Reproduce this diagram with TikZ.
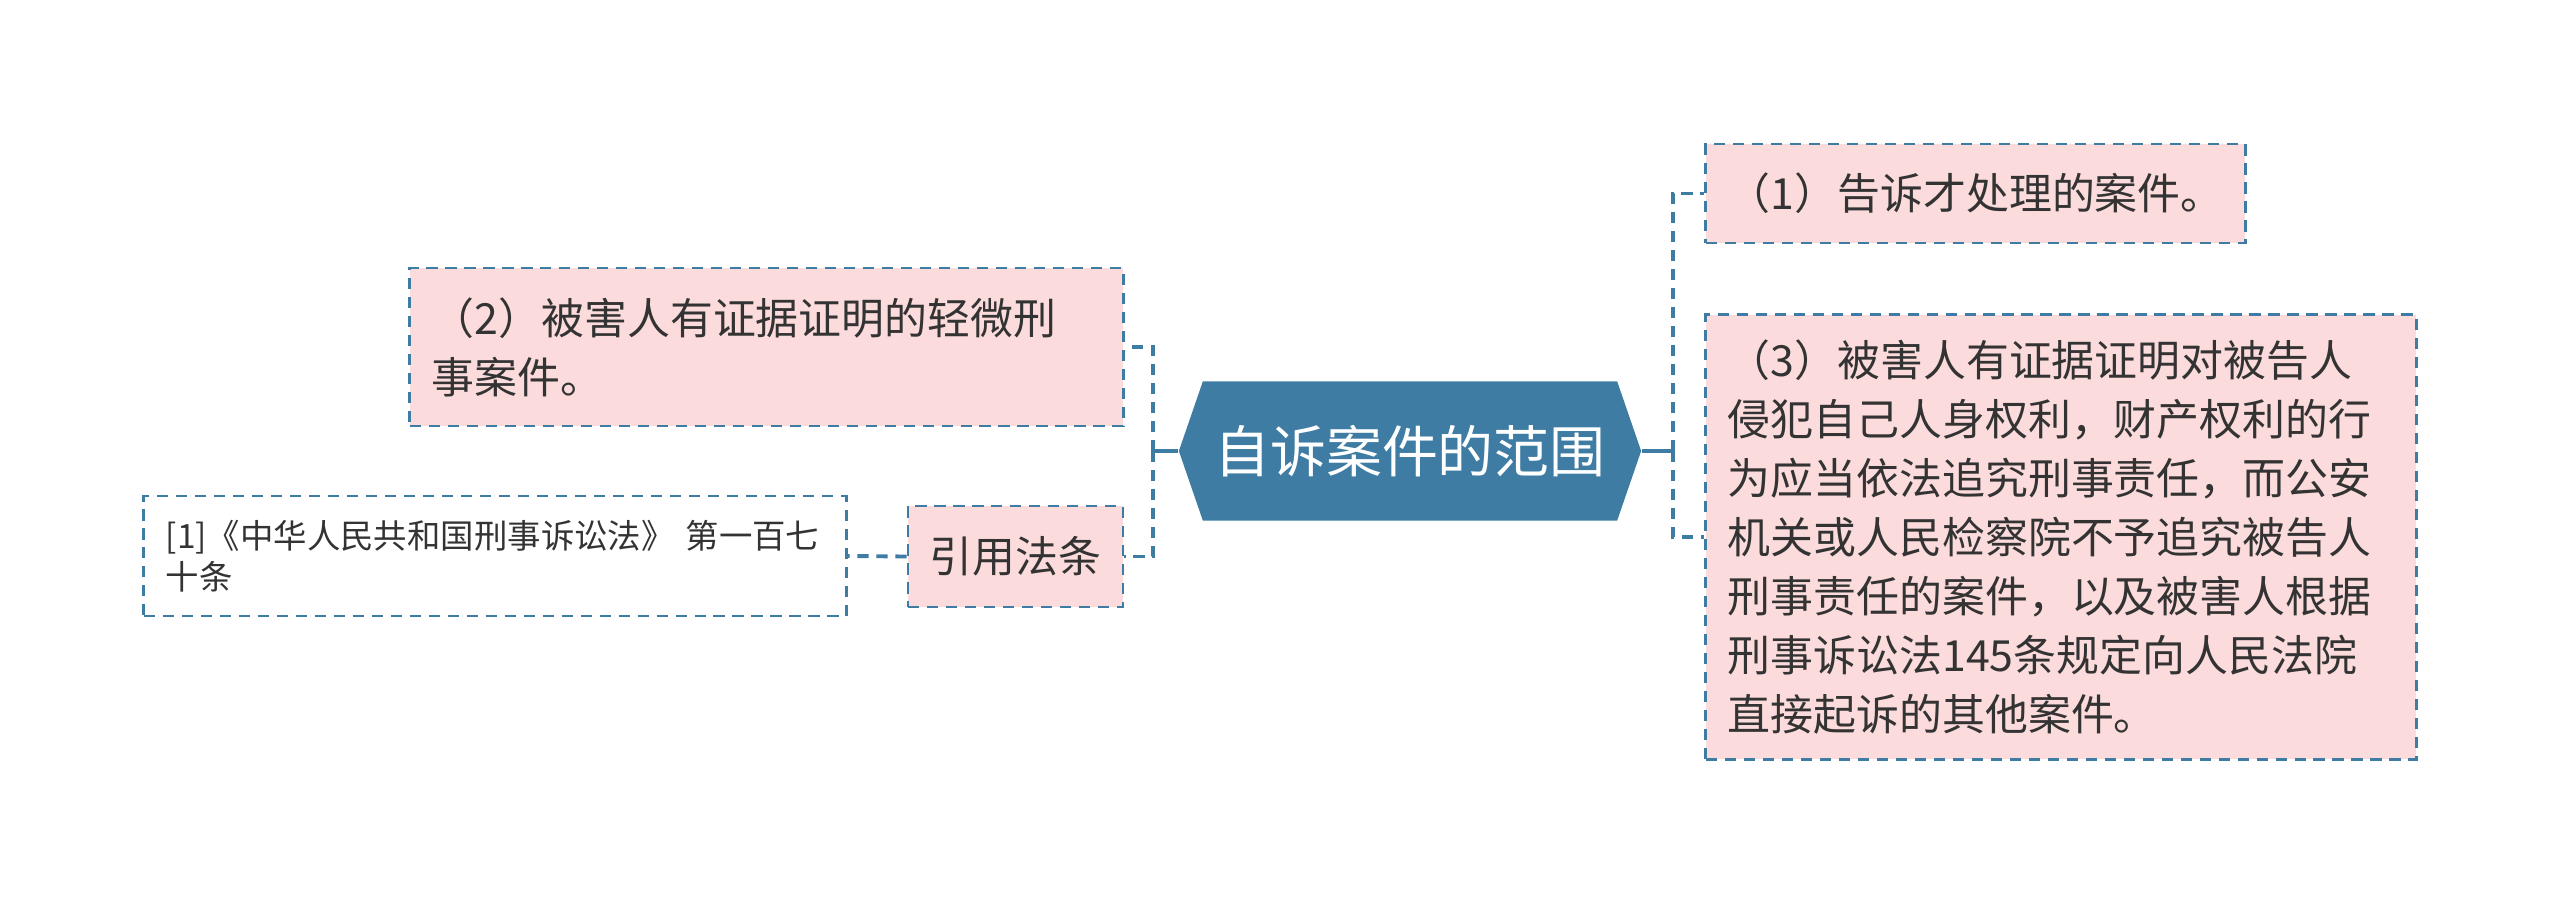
\documentclass[tikz,border=0pt]{standalone}
\usepackage{fontspec}
\setmainfont{Noto Sans CJK SC}
\usetikzlibrary{shapes.symbols}
\definecolor{mapblue}{HTML}{3E7CA4}
\definecolor{mappink}{HTML}{FBDBDB}
\definecolor{maptext}{HTML}{333333}

\begin{document}
\begin{tikzpicture}[x=0.01cm, y=-0.01cm,
  rootnode/.style={signal, signal to=west and east, signal pointer angle=142, fill=mapblue, text=white,
    minimum width=4.62cm, minimum height=1.39cm, inner sep=0pt, font=\fontsize{15.9pt}{19pt}\selectfont},
  leaf/.style={draw=mapblue, line width=0.8pt, dash pattern=on 3.2pt off 2.2pt, fill=mappink, text=maptext,
    align=left, inner xsep=0.22cm, inner ysep=0pt, font=\fontsize{12.2pt}{16.8pt}\selectfont},
  note/.style={leaf, fill=white, font=\fontsize{9.5pt}{11.6pt}\selectfont},
  link/.style={draw=mapblue, line width=1.1pt},
  dlink/.style={link, dash pattern=on 3.2pt off 2.2pt}]
\useasboundingbox (0,0) rectangle (2560,903);
\node[rootnode] (root) at (1410,451) {自诉案件的范围};
\node[leaf, text width=4.95cm, minimum height=0.99cm] (caseA) at (1975.5,193.5) {（1）告诉才处理的案件。};
\node[leaf, text width=6.69cm, minimum height=1.58cm] (caseB) at (766.5,347) {（2）被害人有证据证明的轻微刑\\事案件。};
\node[leaf, text width=6.66cm, minimum height=4.44cm] (caseC) at (2061,537) {（3）被害人有证据证明对被告人\\侵犯自己人身权利，财产权利的行\\为应当依法追究刑事责任，而公安\\机关或人民检察院不予追究被告人\\刑事责任的案件，以及被害人根据\\刑事诉讼法145条规定向人民法院\\直接起诉的其他案件。};
\node[leaf, align=center, inner xsep=0pt, minimum width=2.15cm, minimum height=1.01cm] (lawref) at (1015.5,556.5) {引用法条};
\node[note, text width=6.58cm, minimum height=1.2cm] (lawtext) at (495,556) {[1]《中华人民共和国刑事诉讼法》 第一百七\\十条};
\coordinate (lhub) at (1153,451);
\coordinate (rhub) at (1673,451);
\draw[link] (root.west) -- (lhub);
\draw[link] (root.east) -- (rhub);
\foreach \n in {caseB,lawref} \draw[dlink] (lhub) |- (\n.east);
\foreach \n in {caseA,caseC} \draw[dlink] (rhub) |- (\n.west);
\draw[dlink] (lawref.west) -- (lawtext.east);
\end{tikzpicture}
\end{document}
